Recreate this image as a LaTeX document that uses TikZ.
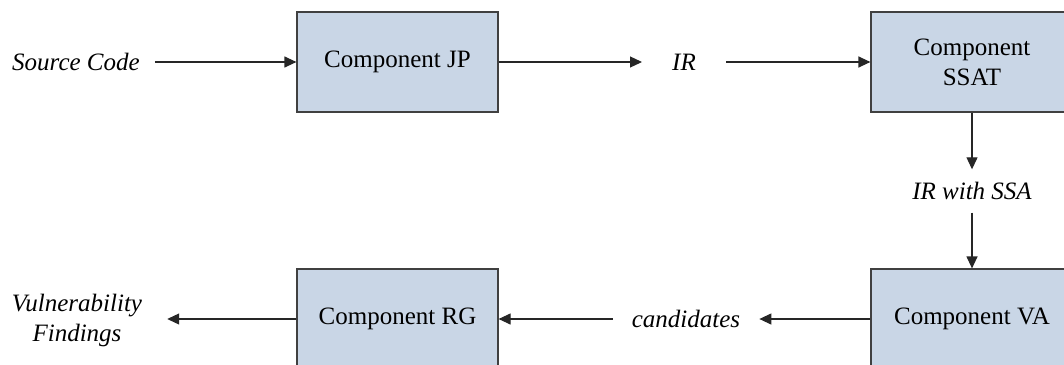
\documentclass[tikz,border=0pt]{standalone}
\usepackage{fontspec}
\setmainfont{Liberation Serif}
\usetikzlibrary{arrows.meta}
\definecolor{boxfill}{RGB}{201,214,230}
\definecolor{boxline}{RGB}{64,64,64}
\begin{document}
\begin{tikzpicture}[x=1pt,y=-1pt,
  comp/.style={draw=boxline,fill=boxfill,line width=1.2pt,minimum width=201pt,
    minimum height=100pt,inner sep=0pt,align=center,font=\fontsize{25}{30}\selectfont},
  lbl/.style={inner ysep=0pt,align=center,font=\fontsize{25}{30}\selectfont\itshape},
  flow/.style={line width=1.2pt,draw=black!85,-{Triangle[length=12pt,width=11pt]}}]
\useasboundingbox (0,0) rectangle (1064,364);

% processing components
\node[comp] (jp)   at (397.5,62)  {Component JP};
\node[comp,minimum width=202pt] (ssat) at (972,62)  {Component\\SSAT};
\node[comp,minimum width=202pt] (va)   at (972,319) {Component VA};
\node[comp] (rg)   at (397.5,319) {Component RG};

% data passed between components
\node[lbl,inner xsep=15pt] (src)  at (76,62)   {Source Code};
\node[lbl,inner xsep=30pt] (ir)   at (684,62)  {IR};
\node[lbl,inner sep=0pt,minimum height=43pt] (ssa) at (972,191) {IR with SSA};
\node[lbl,inner xsep=19pt] (cand) at (686,319) {candidates};
\node[lbl,inner xsep=25pt] (find) at (77,320)  {Vulnerability\\Findings};

% data flow
\draw[flow] (src.east) -- (jp.west);
\draw[flow] (jp.east) -- (ir.west);
\draw[flow] (ir.east) -- (ssat.west);
\draw[flow] (ssat.south) -- (ssa.north);
\draw[flow] (ssa.south) -- (va.north);
\draw[flow] (va.west) -- (cand.east);
\draw[flow] (cand.west) -- (rg.east);
\draw[flow] (rg.west) -- (find.east |- rg.west);
\end{tikzpicture}
\end{document}
